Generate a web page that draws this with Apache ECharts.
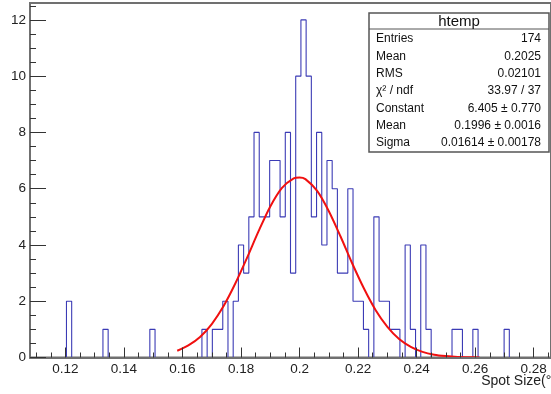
<!DOCTYPE html>
<html>
<head>
<meta charset="utf-8">
<script src="https://cdn.jsdelivr.net/npm/echarts@6/dist/echarts.min.js"></script>
<style>
  html, body { margin: 0; padding: 0; background: #ffffff; }
  #chart { width: 551px; height: 394px; }
</style>
</head>
<body>
<div id="chart"></div>
<script>
// htemp: 100 equal-width bins starting at binLow
const binLow = 0.1079;
const binWidth = 0.00178;
const binCounts = [
  0, 0, 0, 0, 0, 0, 0, 2, 0, 0,
  0, 0, 0, 0, 1, 0, 0, 0, 0, 0,
  0, 0, 0, 1, 0, 0, 0, 0, 0, 0,
  0, 0, 0, 1, 0, 1, 1, 2, 0, 2,
  4, 3, 5, 8, 5, 5, 7, 7, 5, 8,
  3, 10, 12, 10, 5, 8, 4, 7, 6, 3,
  3, 6, 2, 2, 1, 0, 5, 2, 2, 1,
  1, 0, 4, 1, 0, 4, 1, 0, 0, 0,
  0, 1, 1, 0, 0, 1, 0, 0, 0, 0,
  0, 1, 0, 0, 0, 0, 0, 0, 0, 0
];

// Gaussian fit, sampled along the spot size
const fitX = [0.1582, 0.162, 0.166, 0.170, 0.174, 0.178, 0.182, 0.186, 0.190, 0.194,
              0.198, 0.200, 0.202, 0.206, 0.210, 0.214, 0.218, 0.222, 0.226, 0.230,
              0.234, 0.238, 0.242, 0.246, 0.250, 0.254, 0.258, 0.2615];
const fitY = [0.24, 0.43, 0.73, 1.19, 1.82, 2.62, 3.53, 4.49, 5.37, 6.03,
              6.37, 6.40, 6.34, 5.92, 5.20, 4.30, 3.34, 2.45, 1.68, 1.09,
              0.66, 0.38, 0.20, 0.10, 0.05, 0.02, 0.01, 0.00];

// axis ticks and labels
const xMajor = [0.12, 0.14, 0.16, 0.18, 0.20, 0.22, 0.24, 0.26, 0.28];
const xMinor = [0.110, 0.115, 0.125, 0.130, 0.135, 0.145, 0.150, 0.155, 0.165, 0.170, 0.175,
                0.185, 0.190, 0.195, 0.205, 0.210, 0.215, 0.225, 0.230, 0.235, 0.245,
                0.250, 0.255, 0.265, 0.270, 0.275, 0.285];
const yMajor = [0, 2, 4, 6, 8, 10, 12];
const yMinor = [0.5, 1, 1.5, 2.5, 3, 3.5, 4.5, 5, 5.5, 6.5, 7, 7.5, 8.5, 9, 9.5,
                10.5, 11, 11.5, 12.5];
const yMax = 12.6;
const xTitle = 'Spot Size(°)';

// statistics box
const statsTitle = 'htemp';
const statsNames = ['Entries', 'Mean', 'RMS', 'χ² / ndf', 'Constant', 'Mean', 'Sigma'];
const statsValues = ['174', '0.2025', '0.02101', '33.97 / 37',
                     '6.405 ± 0.770', '0.1996 ± 0.0016', '0.01614 ± 0.00178'];

const FONT = '"Liberation Sans", Arial, Helvetica, sans-serif';
const xMax = binLow + binCounts.length * binWidth;

// outline of the histogram: one point at the lower edge of every bin
const histLine = binCounts.map((c, k) => [binLow + k * binWidth, c]);
histLine.push([xMax, binCounts[binCounts.length - 1]]);
const fitLine = fitX.map((x, i) => [x, fitY[i]]);

const fmtX = v => String(Number(v.toFixed(3)));

// stats box elements
const box = { x: 369, y: 13, w: 180, h: 139, head: 29, row0: 39, rowStep: 17.3 };
const statsGraphics = [
  { type: 'rect', shape: { x: box.x, y: box.y, width: box.w, height: box.h },
    style: { fill: '#ffffff', stroke: '#555555', lineWidth: 1.5 }, z: 10 },
  { type: 'line', shape: { x1: box.x, y1: box.head, x2: box.x + box.w, y2: box.head },
    style: { stroke: '#555555', lineWidth: 1 }, z: 11 },
  { type: 'text', x: box.x + box.w / 2, y: (box.y + box.head) / 2 + 0.5, z: 11,
    style: { text: statsTitle, font: '15px ' + FONT, fill: '#111',
             textAlign: 'center', textVerticalAlign: 'middle' } }
];
statsNames.forEach((n, i) => {
  const y = box.row0 + i * box.rowStep;
  statsGraphics.push({ type: 'text', x: box.x + 7, y: y, z: 11,
    style: { text: n, font: '12px ' + FONT, fill: '#111',
             textAlign: 'left', textVerticalAlign: 'middle' } });
  statsGraphics.push({ type: 'text', x: box.x + box.w - 8, y: y, z: 11,
    style: { text: statsValues[i], font: '12px ' + FONT, fill: '#111',
             textAlign: 'right', textVerticalAlign: 'middle' } });
});
statsGraphics.push({ type: 'text', x: 556, y: 381, z: 11,
  style: { text: xTitle, font: '14px ' + FONT, fill: '#222',
           textAlign: 'right', textVerticalAlign: 'middle' } });

const chart = echarts.init(document.getElementById('chart'), null, { renderer: 'canvas' });
chart.setOption({
  animation: false,
  backgroundColor: '#ffffff',
  grid: { left: 30, top: 3, width: 525, height: 354.5, show: true,
          borderColor: '#707070', borderWidth: 2, backgroundColor: 'transparent' },
  xAxis: [
    { type: 'value', min: binLow, max: xMax, position: 'bottom', z: 5,
      axisLine: { show: true, lineStyle: { color: '#707070', width: 2 } },
      axisTick: { show: true, inside: true, length: 10, customValues: xMajor,
                  lineStyle: { color: '#333', width: 1 } },
      axisLabel: { show: true, customValues: xMajor, formatter: fmtX, margin: 5,
                   fontFamily: FONT, fontSize: 13.5, color: '#222' },
      splitLine: { show: false } },
    { type: 'value', min: binLow, max: xMax, position: 'bottom', z: 5,
      axisLine: { show: false },
      axisTick: { show: true, inside: true, length: 5, customValues: xMinor,
                  lineStyle: { color: '#333', width: 1 } },
      axisLabel: { show: false },
      splitLine: { show: false } }
  ],
  yAxis: [
    { type: 'value', min: 0, max: yMax, position: 'left', z: 5,
      axisLine: { show: true, lineStyle: { color: '#707070', width: 2 } },
      axisTick: { show: true, inside: true, length: 16, customValues: yMajor,
                  lineStyle: { color: '#333', width: 1 } },
      axisLabel: { show: true, customValues: yMajor, margin: 4,
                   fontFamily: FONT, fontSize: 13.5, color: '#222' },
      splitLine: { show: false } },
    { type: 'value', min: 0, max: yMax, position: 'left', z: 5,
      axisLine: { show: false },
      axisTick: { show: true, inside: true, length: 6, customValues: yMinor,
                  lineStyle: { color: '#333', width: 1 } },
      axisLabel: { show: false },
      splitLine: { show: false } }
  ],
  series: [
    { type: 'line', name: 'htemp', xAxisIndex: 0, yAxisIndex: 0,
      data: histLine, step: 'end', showSymbol: false, symbol: 'none',
      lineStyle: { color: '#3b3bb5', width: 1.1 }, z: 2 },
    { type: 'line', name: 'gaus', xAxisIndex: 0, yAxisIndex: 0,
      data: fitLine, smooth: 0.3, showSymbol: false, symbol: 'none',
      lineStyle: { color: '#f01010', width: 2 }, z: 3 }
  ],
  graphic: statsGraphics
});
</script>
</body>
</html>
